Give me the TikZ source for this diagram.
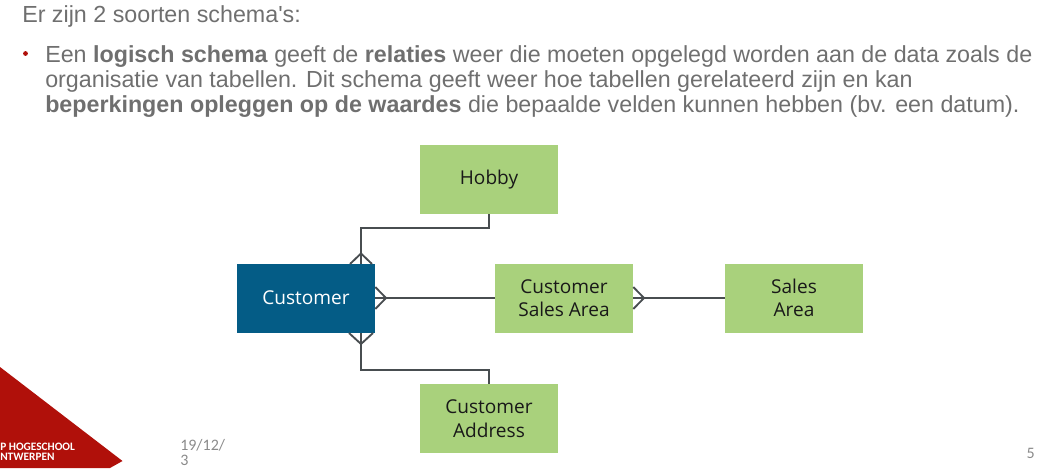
\documentclass[tikz,border=0pt]{standalone}
\usepackage{fontspec}
\setmainfont{Liberation Sans}
\newfontfamily\diag{Open Sans}
\newfontfamily\foot{Carlito}
\definecolor{bodygray}{HTML}{6F6F6F}
\definecolor{boxgreen}{HTML}{A9D17C}
\definecolor{custblue}{HTML}{045C86}
\definecolor{linegray}{HTML}{484D50}
\definecolor{apred}{HTML}{B0100A}
\definecolor{footgray}{HTML}{8A8A8A}
\tikzset{
  x=0.75pt,y=-0.75pt,
  ent/.style={minimum width=103.5pt,minimum height=51.75pt,inner sep=0pt,align=center,font=\diag\fontsize{14.3}{17.6}\selectfont,text=black!90},
  greenbox/.style={ent,fill=boxgreen},
  bluebox/.style={ent,fill=custblue,text=white},
  conn/.style={draw=linegray,line width=1.4pt,line join=miter},
  bodytext/.style={anchor=base west,inner sep=0pt,text=bodygray,font=\fontsize{17.45}{20}\selectfont},
  foottext/.style={anchor=base west,inner sep=0pt,text=footgray,font=\foot\fontsize{12}{14}\selectfont},
  logotext/.style={anchor=base west,inner sep=0pt,text=white,font=\foot\bfseries\fontsize{8.5}{10}\selectfont},
}
\begin{document}
\begin{tikzpicture}
\useasboundingbox (0,0) rectangle (1052,468);
% logo
\fill[apred] (0,367) -- (122.5,461) -- (110,468) -- (0,468) -- cycle;
\begin{scope}
\clip (0,430) rectangle (123,468);
\node[logotext] (ap1) at (0,450) {P HOGESCHOOL};
\node[logotext] (ap2) at (0,460) {NTWERPEN};
\end{scope}
% footer
\begin{scope}
\clip (170,430) rectangle (224,468);
\node[foottext] (date1) at (180,450) {19/12/2};
\end{scope}
\node[foottext] (date2) at (180,465) {3};
\node[foottext,anchor=base east] (page) at (1035,458) {5};
% text
\node[bodytext] (t0) at (22,22.5) {Er zijn 2 soorten schema\textquotesingle s:};
\fill[apred] (25.5,53.5) circle (2.4);
\node[bodytext] (t1) at (45,62) {Een \textbf{logisch schema} geeft de \textbf{relaties} weer die moeten opgelegd worden aan de data zoals de};
\node[bodytext] (t2) at (45,87) {organisatie van tabellen. Dit schema geeft weer hoe tabellen gerelateerd zijn en kan};
\node[bodytext] (t3) at (45,112.5) {\textbf{beperkingen opleggen op de waardes} die bepaalde velden kunnen hebben (bv. een datum).};
% entities
\node[greenbox] (hobby) at (489,179.5) {\raisebox{-1pt}{Hobby}};
\node[bluebox] (cust) at (306,298) {Customer};
\node[greenbox] (csa) at (564,298) {Customer\\Sales Area};
\node[greenbox] (sales) at (794,298) {Sales\\Area};
\node[greenbox] (addr) at (489,418.5) {Customer\\Address};
% connectors
\coordinate (ct) at (361,264);
\coordinate (cb) at (361,333);
\coordinate (hb) at (489,228);
\coordinate (ab) at (489,370);
\draw[conn] (hobby.south) -- (hb) -| (ct);
\draw[conn] (addr.north) -- (ab) -| (cb);
\draw[conn] (cust.east) -- (csa.west);
\draw[conn] (csa.east) -- (sales.west);
% crow's feet
\draw[conn] ([xshift=-8.25pt]ct) -- ++(11,-10.5) -- ++(11,10.5);
\draw[conn] ([xshift=-9pt]cb) -- ++(12,11) -- ++(12,-11);
\draw[conn] (cust.east |- 0,287) -- (386,298) -- (cust.east |- 0,309);
\draw[conn] (csa.east |- 0,287) -- (644,298) -- (csa.east |- 0,309);
\end{tikzpicture}
\end{document}
